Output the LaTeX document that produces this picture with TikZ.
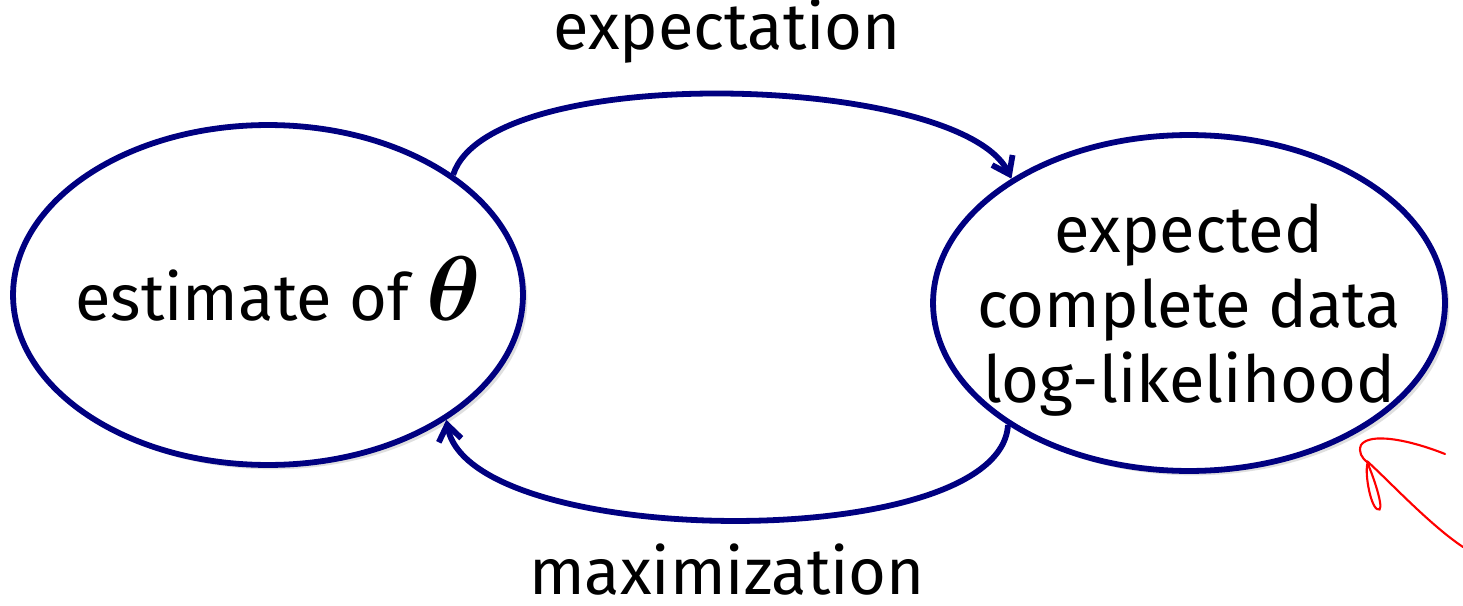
\documentclass[tikz,border=0pt]{standalone}
\usepackage{amsmath}
\usepackage{fontspec}
\setmainfont{Fira Sans}
\usetikzlibrary{shapes.geometric,shadows,arrows.meta}
\definecolor{navy}{RGB}{0,0,128}
\begin{document}
\begin{tikzpicture}[x=0.02cm,y=-0.02cm,
  state/.style={ellipse,draw=navy,line width=3.3pt,fill=white,inner sep=0pt,
    drop shadow={shadow xshift=2.5pt,shadow yshift=-2.5pt,fill=black!25,opacity=0.5}},
  conn/.style={draw=navy,line width=3.3pt,-{Straight Barb[length=9pt,width=13pt,line width=3.3pt]}},
  lbl/.style={font=\fontsize{37}{42.5}\selectfont,text=black,align=center},
  scrib/.style={red,line width=1.2pt,line cap=round}]
\useasboundingbox (0,0) rectangle (1463,605);
\node[state,minimum width=10.2cm,minimum height=6.8cm] (L) at (268,295) {};
\node[state,minimum width=10.24cm,minimum height=6.72cm] (R) at (1189,303) {};
\node[lbl,anchor=base] (Lt) at (278,320) {estimate of \scalebox{2.1}{$\boldsymbol{\theta}$}};
\node[lbl] (Rt) at (1189,310) {expected\\complete data\\log-likelihood};
\draw[conn] (L.33) .. controls (490,60) and (960,74) .. (R.145);
\draw[conn] (R.214) .. controls (1000,555) and (470,550) .. (L.-35);
\node[lbl,anchor=base] (E) at (727,50) {expectation};
\node[lbl,anchor=base,inner sep=0pt] (M) at (727,594) {maximization};
\draw[scrib] (1445,454) .. controls (1410,440) and (1370,432) .. (1361,445)
  .. controls (1358,452) and (1362,458) .. (1367,462)
  .. controls (1375,480) and (1386,515) .. (1377,509)
  .. controls (1370,505) and (1364,470) .. (1368,462)
  .. controls (1390,482) and (1430,525) .. (1463,547);
\end{tikzpicture}
\end{document}
